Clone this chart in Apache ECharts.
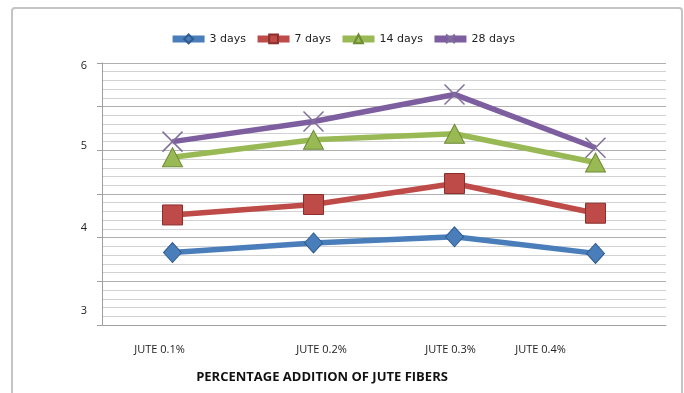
<!DOCTYPE html>
<html>
<head>
<meta charset="utf-8">
<script src="https://cdn.jsdelivr.net/npm/echarts@6/dist/echarts.min.js"></script>
<style>
  html, body { margin: 0; padding: 0; background: #fff; }
  #chart { width: 684px; height: 393px; }
</style>
</head>
<body>
<div id="chart"></div>
<script>
// Categories and measured values per curing age
const categories = ['JUTE 0.1%', 'JUTE 0.2%', 'JUTE 0.3%', 'JUTE 0.4%'];
const days3  = [3.83, 3.94, 4.01, 3.82];
const days7  = [4.26, 4.38, 4.62, 4.28];
const days14 = [4.92, 5.12, 5.19, 4.86];
const days28 = [5.10, 5.33, 5.64, 5.03];
const seriesNames = ['3 days', '7 days', '14 days', '28 days'];
const yTickLabels = [3, 4, 5, 6];
const axisTitle = 'PERCENTAGE ADDITION OF JUTE FIBERS';

// Small horizontal nudges for category labels (px, + = right)
const xLabelShift = [-13, 8, -4, -55];
// Small vertical nudges for value labels (px, + = down)
const yLabelShift = { 3: -14, 4: -10, 5: -4, 6: 3 };

const colors = ['#4A7EBB', '#BE4B48', '#98B954', '#7D5FA0'];
const edge = ['#2F5C8F', '#8C2F2C', '#6E8B35', '#5A4177'];

const xRich = {};
xLabelShift.forEach((d, i) => {
  xRich['c' + i] = {
    fontFamily: 'Open Sans', fontSize: 11, color: '#222',
    padding: d < 0 ? [0, -2 * d, 0, 0] : [0, 0, 0, 2 * d]
  };
});
const yRich = {};
yTickLabels.forEach(v => {
  const d = yLabelShift[v];
  yRich['t' + v] = {
    fontFamily: 'Open Sans', fontSize: 11, color: '#222',
    padding: d < 0 ? [0, 0, -2 * d, 0] : [2 * d, 0, 0, 0]
  };
});

function makeSeries(name, data, i, symbol, size) {
  return {
    name: name,
    type: 'line',
    data: data,
    symbol: symbol,
    symbolSize: size,
    showAllSymbol: true,
    z: 2 + i,
    lineStyle: { width: 5.5, color: colors[i] },
    itemStyle: { color: colors[i], borderColor: edge[i], borderWidth: 1 },
    emphasis: { disabled: true }
  };
}

const chart = echarts.init(document.getElementById('chart'), null, { renderer: 'canvas' });
chart.setOption({
  animation: false,
  backgroundColor: '#fff',
  graphic: [{
    type: 'rect',
    shape: { x: 12, y: 8, width: 670, height: 400, r: 3 },
    style: { fill: 'none', stroke: '#c4c4c4', lineWidth: 2 },
    silent: true
  }],
  legend: {
    top: 27,
    left: 'center',
    itemWidth: 32,
    itemHeight: 11,
    itemGap: 8,
    lineStyle: { width: 7 },
    textStyle: { fontFamily: 'DejaVu Sans', fontSize: 11, color: '#222' },
    data: seriesNames
  },
  grid: { left: 102, right: 18, top: 63, bottom: 68 },
  xAxis: {
    type: 'category',
    data: categories,
    boundaryGap: true,
    axisLine: { lineStyle: { color: '#a0a0a0', width: 1 } },
    axisTick: { show: false },
    axisLabel: {
      margin: 19,
      formatter: (v, i) => '{c' + i + '|' + v + '}',
      rich: xRich
    },
    name: axisTitle,
    nameLocation: 'middle',
    nameGap: 46,
    nameTextStyle: {
      fontFamily: 'Open Sans', fontSize: 13, fontWeight: 'bold', color: '#111',
      padding: [0, 124, 0, 0]
    },
    splitLine: { show: false }
  },
  yAxis: {
    type: 'value',
    min: 3,
    max: 6,
    interval: 0.5,
    axisLine: { show: true, lineStyle: { color: '#a0a0a0', width: 1 } },
    axisTick: { show: true, length: 5, lineStyle: { color: '#a0a0a0' } },
    minorTick: { show: false, splitNumber: 5 },
    axisLabel: {
      margin: 15,
      formatter: v => Number.isInteger(v) ? '{t' + v + '|' + v + '}' : '',
      rich: yRich
    },
    splitLine: { show: true, lineStyle: { color: '#b0b0b0', width: 1 } },
    minorSplitLine: { show: true, lineStyle: { color: '#d2d2d2', width: 1 } }
  },
  series: [
    makeSeries(seriesNames[0], days3, 0, 'diamond', [18, 20]),
    makeSeries(seriesNames[1], days7, 1, 'rect', 20),
    makeSeries(seriesNames[2], days14, 2, 'triangle', [20, 19]),
    Object.assign(makeSeries(seriesNames[3], days28, 3, 'path://M0,0L10,10M10,0L0,10', 20), {
      itemStyle: { color: 'none', borderColor: '#7f6f9a', borderWidth: 1.5 }
    })
  ]
});
</script>
</body>
</html>
